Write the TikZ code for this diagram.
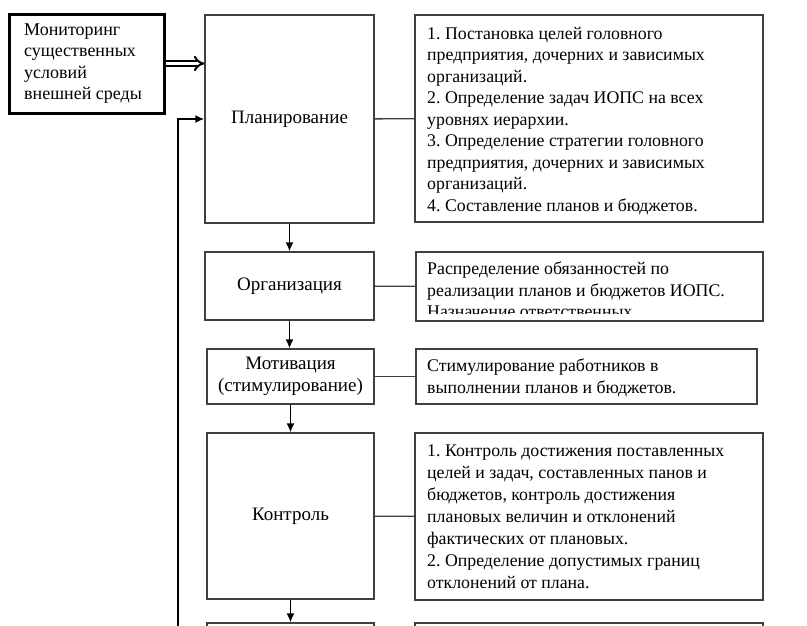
\documentclass[tikz,border=0pt]{standalone}
\usepackage{fontspec}
\setmainfont{Liberation Serif}
\usetikzlibrary{arrows.meta}
\frenchspacing

\begin{document}
\begin{tikzpicture}[x=1pt,y=-1pt]
	\tikzstyle{every node}+=[inner sep=0pt,font=\fontsize{18}{21.5}\selectfont]
	\tikzstyle{stage}=[draw=black!75,line width=1.3pt,align=center,font=\fontsize{19}{22.5}\selectfont]
	\tikzstyle{note}=[draw=black!75,line width=1.3pt]
	\tikzstyle{notetext}=[anchor=north west,align=left,font=\fontsize{17.8}{21.5}\selectfont]
	\tikzstyle{link}=[draw=black!75,line width=1.3pt]
	\tikzstyle{flow}=[line width=1.6pt,-{Latex[length=9pt,width=8pt]}]
	\useasboundingbox (0,0) rectangle (807,625);
	\clip (0,0) rectangle (807,625);
	\fill [white] (0,0) rectangle (807,625);
	\node [draw,line width=3pt,minimum width=155pt,minimum height=99pt] (mon) at (86.5,63.5) {};
	\node [anchor=west,align=left] (montxt) at (24,63.5) {Мониторинг\\существенных\\условий\\внешней среды};
	\node [stage,minimum width=169pt,minimum height=208pt] (plan) at (289.5,119) {Планирование};
	\node [note,minimum width=348pt,minimum height=207pt] (goals) at (589,118.5) {};
	\node [notetext] (goalstxt) at (427,27) {1. Постановка целей головного\\предприятия, дочерних и зависимых\\организаций.\\2. Определение задач ИОПС на всех\\уровнях иерархии.\\3. Определение стратегии головного\\предприятия, дочерних и зависимых\\организаций.\\4. Составление планов и бюджетов.};
	\node [stage,minimum width=169pt,minimum height=68pt] (org) at (289.5,286) {Организация};
	\node [note,minimum width=347pt,minimum height=69pt] (duties) at (589.5,286.5) {};
	\begin{scope}
		\clip (416,252) rectangle (763,313);
		\node [notetext] (dutiestxt) at (427,262) {Распределение обязанностей по\\реализации планов и бюджетов ИОПС.\\Назначение ответственных};
	\end{scope}
	\node [stage,minimum width=167pt,minimum height=55pt] (mot) at (290.5,376.5) {Мотивация\\(стимулирование)};
	\node [note,minimum width=341pt,minimum height=55pt] (bonus) at (586.5,376.5) {};
	\node [notetext] (bonustxt) at (427,359) {Стимулирование работников в\\выполнении планов и бюджетов.};
	\node [stage,minimum width=167pt,minimum height=166pt] (ctl) at (290.5,516) {Контроль};
	\node [note,minimum width=348pt,minimum height=167pt] (check) at (589,516.5) {};
	\node [notetext,font=\fontsize{17.8}{22}\selectfont] (checktxt) at (427,445) {1. Контроль достижения поставленных\\целей и задач, составленных  панов и\\бюджетов, контроль достижения\\плановых величин и отклонений\\фактических от плановых.\\2. Определение допустимых границ\\отклонений от плана.};
	\node [stage,minimum width=167pt,minimum height=100pt] (nxt) at (290.5,673) {};
	\node [note,minimum width=348pt,minimum height=100pt] (nxtnote) at (589,673) {};
	\coordinate (fb) at (178,640);
	\draw [line width=2pt,double,double distance=3pt,-{Implies}] (mon.east) -- (mon.east -| plan.west);
	\draw [flow,line width=2pt] (fb) |- (plan.west);
	\draw [flow] (plan.south) -- (org.north);
	\draw [flow] (org.south) -- (org.south |- mot.north);
	\draw [flow] (mot.south) -- (ctl.north);
	\draw [flow] (ctl.south) -- (nxt.north);
	\draw [link] (plan) -- (goals);
	\draw [link] (org) -- (duties);
	\draw [link] (mot) -- (bonus);
	\draw [link] (ctl) -- (check);
\end{tikzpicture}
\end{document}
